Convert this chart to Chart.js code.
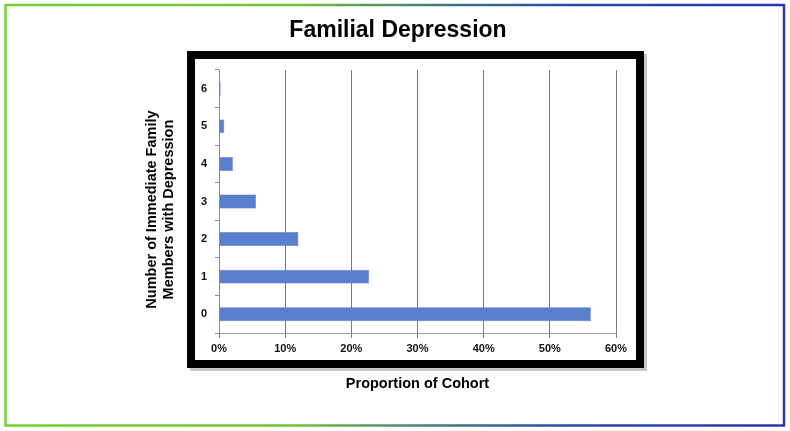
<!DOCTYPE html>
<html>
<head>
<meta charset="utf-8">
<script src="https://cdn.jsdelivr.net/npm/chart.js@4.4.1/dist/chart.umd.min.js"></script>
<style>
  html, body { margin: 0; padding: 0; background: #fff; }
  #wrap { width: 790px; height: 431px; position: relative; }
</style>
</head>
<body>
<div id="wrap"><canvas id="chart"></canvas></div>
<script>
// chart data
const familyMembers = ["0", "1", "2", "3", "4", "5", "6"];
const cohortShare = [56.2, 22.7, 12.0, 5.6, 2.1, 0.8, 0.25];
const xTicks = [0, 10, 20, 30, 40, 50, 60];

const sans = "'Liberation Sans', Arial, sans-serif";

// outer gradient border + black framed box behind the plot
const framePlugin = {
    id: "frame",
    beforeDraw(chart) {
        const ctx = chart.ctx;
        ctx.save();
        ctx.fillStyle = "#fff";
        ctx.fillRect(0, 0, chart.width, chart.height);

        const grad = ctx.createLinearGradient(0, 0, 790, 0);
        grad.addColorStop(0, "#72d234");
        grad.addColorStop(0.38, "#6cc23a");
        grad.addColorStop(0.55, "#3f7f80");
        grad.addColorStop(0.72, "#2d48a8");
        grad.addColorStop(1, "#2a35b2");
        ctx.strokeStyle = grad;
        ctx.lineWidth = 2.5;
        ctx.strokeRect(5.5, 5, 778.5, 420.5);

        // shadow
        ctx.fillStyle = "rgba(0,0,0,0.22)";
        ctx.fillRect(190, 54, 457, 317);
        ctx.fillStyle = "#000";
        ctx.fillRect(187, 51, 457, 317);
        ctx.fillStyle = "#fff";
        ctx.fillRect(195, 59, 441, 301);
        ctx.restore();
    }
};

new Chart(document.getElementById("chart"), {
    type: "bar",
    data: {
        labels: familyMembers,
        datasets: [{
            data: cohortShare,
            backgroundColor: "#5b7fcf",
            borderColor: "#4a6cbd",
            borderWidth: 0.5,
            barPercentage: 0.37,
            categoryPercentage: 1
        }]
    },
    options: {
        indexAxis: "y",
        responsive: true,
        maintainAspectRatio: false,
        animation: false,
        layout: {
            padding: { left: 143, right: 137, top: 0, bottom: 38 }
        },
        plugins: {
            legend: { display: false },
            tooltip: { enabled: false },
            title: {
                display: true,
                text: "Familial Depression",
                color: "#000",
                font: { family: sans, size: 23, weight: "bold" },
                padding: { top: 17, bottom: 25.4 }
            }
        },
        scales: {
            x: {
                min: 0,
                max: 60,
                afterBuildTicks(scale) {
                    scale.ticks = xTicks.map(v => ({ value: v }));
                },
                afterFit(scale) { scale.height = 60; },
                grid: {
                    color: "#7a7a7a",
                    lineWidth: 1,
                    tickLength: 5
                },
                border: { color: "#9a9a9a", width: 1 },
                ticks: {
                    color: "#111",
                    padding: 4,
                    font: { family: sans, size: 11, weight: "bold" },
                    callback: v => v + "%"
                },
                title: {
                    display: true,
                    text: "Proportion of Cohort",
                    color: "#000",
                    font: { family: sans, size: 14.5, weight: "bold" },
                    padding: { top: 0, bottom: 0 }
                }
            },
            y: {
                reverse: true,
                afterFit(scale) { scale.width = 76; },
                grid: {
                    offset: true,
                    drawOnChartArea: false,
                    color: "#8a8a8a",
                    tickLength: 4
                },
                border: { color: "#8a8a8a", width: 1 },
                ticks: {
                    color: "#111",
                    padding: 8,
                    font: { family: sans, size: 11, weight: "bold" }
                },
                title: {
                    display: true,
                    // trailing spaces nudge the rotated title down a little
                    text: ["Number of Immediate Family    ", "Members with Depression    "],
                    color: "#000",
                    font: { family: sans, size: 14.5, weight: "bold", lineHeight: 1.2 },
                    padding: { top: 0, bottom: 0 }
                }
            },
            // empty spacer axis on the right so the title centres on the page
            spacer: {
                type: "linear",
                axis: "y",
                position: "right",
                afterFit(scale) { scale.width = 37; },
                grid: { display: false },
                border: { display: false },
                ticks: { display: false }
            }
        }
    },
    plugins: [framePlugin]
});
</script>
</body>
</html>
